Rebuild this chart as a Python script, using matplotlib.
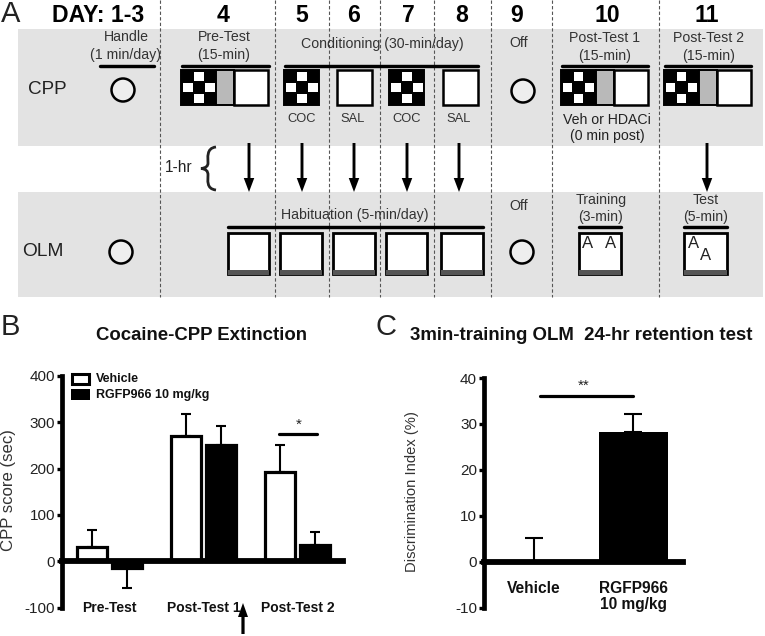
import matplotlib
matplotlib.use("Agg")
import matplotlib.pyplot as plt
from matplotlib.patches import Rectangle, Circle, PathPatch
from matplotlib.path import Path

plt.rcParams['font.family'] = ['Liberation Sans', 'DejaVu Sans']

W, H = 765, 636

# panel B values
groups = ['Pre-Test', 'Post-Test 1', 'Post-Test 2']
vehicle = [30, 270, 192]
vehicle_err = [37, 47, 58]
rgfp = [-15, 250, 35]
rgfp_err = [43, 42, 28]

# panel C values
olm_labels = ['Vehicle', 'RGFP966\n10 mg/kg']
olm_values = [0, 28.2]
olm_err = [5.1, 4.0]

# panel A labels
day_labels = ['DAY: 1-3', '4', '5', '6', '7', '8', '9', '10', '11']
day_x = [98, 223, 302, 354, 408, 462, 517, 607, 707]
divider_x = [160, 275, 329, 380, 434, 491, 552, 659]
arrow_x = [249, 302, 354, 407, 459, 707]

TXT = '#333333'
BAND = '#e3e3e3'


def px_axes(fig, left, right, top, bottom):
    return fig.add_axes([left / W, 1 - bottom / H, (right - left) / W, (bottom - top) / H])


def line(ax, x0, x1, y, lw=3.4):
    ax.plot([x0, x1], [y, y], color='black', lw=lw * 0.72, solid_capstyle='round')


def label(ax, x, y, s, size=10.2, color=TXT, **kw):
    ax.text(x, y, s, fontsize=size, color=color, ha='center', va='center', **kw)


def circle(ax, x, y):
    ax.add_patch(Circle((x, y), 11.5, fc='#eeeeee', ec='black', lw=1.8))


def checker(ax, x0, y0):
    ax.add_patch(Rectangle((x0, y0), 35, 35, fc='black', ec='black', lw=1.4))
    cx, cy = x0 + 17.5, y0 + 17.5
    for dx, dy in [(0, -11), (-11, 0), (11, 0), (0, 11)]:
        ax.add_patch(Rectangle((cx + dx - 4.9, cy + dy - 4.9), 9.8, 9.8, fc='white', ec='none'))


def white_box(ax, x0, x1, y0=70, y1=105):
    ax.add_patch(Rectangle((x0, y0), x1 - x0, y1 - y0, fc='white', ec='black', lw=1.8))


def tri_chamber(ax, x0):
    checker(ax, x0, 70)
    ax.add_patch(Rectangle((x0 + 35, 70), 18, 35, fc='#b9b9b9', ec='black', lw=1.4))
    white_box(ax, x0 + 53, x0 + 87)


def olm_box(ax, x0, x1):
    ax.add_patch(Rectangle((x0, 233), x1 - x0, 41, fc='white', ec='black', lw=2.0))
    ax.add_patch(Rectangle((x0, 270), x1 - x0, 4.5, fc='#555555', ec='none'))


fig = plt.figure(figsize=(W / 100, H / 100), dpi=100)

bg = fig.add_axes([0, 0, 1, 1])
bg.set_xlim(0, W)
bg.set_ylim(H, 0)
bg.axis('off')

bg.add_patch(Rectangle((18, 29), 745, 117, fc=BAND, ec='none'))
bg.add_patch(Rectangle((18, 192), 745, 105, fc=BAND, ec='none'))
for x in divider_x:
    bg.plot([x, x], [0, 297], color='#555555', lw=0.8, ls=(0, (3, 2)))

label(bg, 11, 14, 'A', size=21, color='#222222')
for x, s in zip(day_x, day_labels):
    label(bg, x, 16, s, size=16.6, color='black', fontweight='bold')

# CPP row
label(bg, 47, 90, 'CPP', size=13.6, color='#222222')
label(bg, 126, 37, 'Handle')
label(bg, 126, 55, '(1 min/day)')
line(bg, 100, 154, 66)
circle(bg, 123, 90)

label(bg, 224, 37, 'Pre-Test')
label(bg, 224, 55, '(15-min)')
line(bg, 182, 269, 65.5)
tri_chamber(bg, 181.5)

label(bg, 382, 44, 'Conditioning (30-min/day)')
line(bg, 285, 478, 65.5)
checker(bg, 284.5, 70)
white_box(bg, 337.5, 372)
checker(bg, 389.5, 70)
white_box(bg, 443.5, 478)
for x, s in zip([302, 353, 407, 459], ['COC', 'SAL', 'COC', 'SAL']):
    label(bg, x, 119, s, size=9.3)

label(bg, 519, 43, 'Off')
circle(bg, 523, 91)

label(bg, 605, 38, 'Post-Test 1')
label(bg, 605, 56, '(15-min)')
line(bg, 562, 648, 65.5)
tri_chamber(bg, 561)
label(bg, 607, 120, 'Veh or HDACi', color='#222222')
label(bg, 607, 136, '(0 min post)', color='#222222')

label(bg, 709, 38, 'Post-Test 2')
label(bg, 709, 56, '(15-min)')
line(bg, 665, 751, 65.5)
tri_chamber(bg, 664)

# arrows between the rows
for x in arrow_x:
    bg.arrow(x, 143, 0, 49, width=2.9, head_width=10.5, head_length=14,
             length_includes_head=True, fc='black', ec='none')
label(bg, 179, 168, '1-hr', size=11.2, color='#222222')
brace = Path([(216, 147), (206, 148), (208, 158), (208, 163), (208, 166), (206, 168), (201, 168.5),
              (206, 169), (208, 171), (208, 175), (208, 180), (206, 189), (216, 190)],
             [Path.MOVETO] + [Path.CURVE4] * 12)
bg.add_patch(PathPatch(brace, fc='none', ec='#222222', lw=2.0))

# OLM row
label(bg, 43, 252, 'OLM', size=13.8, color='#222222')
circle(bg, 121, 252)
label(bg, 355, 215, 'Habituation (5-min/day)')
line(bg, 228, 483, 227)
for x0, x1 in [(228, 269), (280, 322), (333, 375), (386, 427), (441, 483)]:
    olm_box(bg, x0, x1)

label(bg, 519, 206, 'Off')
circle(bg, 522, 252)

label(bg, 601, 200, 'Training')
label(bg, 601, 217, '(3-min)')
line(bg, 579, 621, 227)
olm_box(bg, 579, 621)
label(bg, 588, 244, 'A', size=12, color='#222222')
label(bg, 611, 244, 'A', size=12, color='#222222')

label(bg, 706, 200, 'Test')
label(bg, 706, 217, '(5-min)')
line(bg, 684, 727, 227)
olm_box(bg, 684, 727)
label(bg, 694, 243, 'A', size=12, color='#222222')
label(bg, 706, 256, 'A', size=12, color='#222222')

# panel letters and titles
label(bg, 10, 327, 'B', size=21, color='#222222')
label(bg, 386, 327, 'C', size=21, color='#222222')
label(bg, 202, 336, 'Cocaine-CPP Extinction', size=13.4, color='#111111', fontweight='bold')
label(bg, 581, 336, '3min-training OLM  24-hr retention test', size=13.4, color='#111111', fontweight='bold')
label(bg, 9, 490, 'CPP score (sec)', size=12.1, rotation=90)
label(bg, 412, 492, 'Discrimination Index (%)', size=10.6, rotation=90)
bg.arrow(243, 634, 0, -31, width=3.2, head_width=10, head_length=14,
         length_includes_head=True, fc='black', ec='none')


def style_axes(ax, yticks):
    ax.patch.set_visible(False)
    for side in ['top', 'right']:
        ax.spines[side].set_visible(False)
    ax.spines['left'].set_linewidth(3.4)
    ax.spines['bottom'].set_position(('data', 0))
    ax.spines['bottom'].set_linewidth(4.2)
    ax.set_xticks([])
    ax.set_yticks(yticks)
    ax.set_yticklabels([str(t) for t in yticks])
    ax.tick_params(axis='y', length=3.5, width=2.4, pad=1.5, labelsize=11, labelcolor='#222222')


# panel B
axb = px_axes(fig, 62, 343, 375.7, 607.7)
style_axes(axb, [-100, 0, 100, 200, 300, 400])
axb.set_xlim(-0.505, 2.484)
axb.set_ylim(-100, 400)
offset = 0.186
bar_w = 0.31
for i in range(len(groups)):
    x_v, x_r = i - offset, i + offset
    axb.errorbar(x_v, vehicle[i], yerr=[[0], [vehicle_err[i]]], color='black', elinewidth=1.5,
                 capsize=3.4, capthick=1.5, zorder=1)
    low = [rgfp_err[i]] if rgfp[i] < 0 else [0]
    up = [0] if rgfp[i] < 0 else [rgfp_err[i]]
    axb.errorbar(x_r, rgfp[i], yerr=[low, up], color='black', elinewidth=1.5,
                 capsize=3.4, capthick=1.5, zorder=1)
    axb.bar(x_v, vehicle[i], bar_w, fc='white', ec='black', lw=2.3, zorder=2)
    axb.bar(x_r, rgfp[i], bar_w, fc='black', ec='black', lw=2.3, zorder=2)
    axb.text(i, -100, groups[i], ha='center', va='center', fontsize=10, fontweight='bold', color='#111111')
axb.plot([1.80, 2.21], [275, 275], color='black', lw=2.3, solid_capstyle='round')
axb.text(2.01, 294, '*', ha='center', va='center', fontsize=11, color='#222222')

# legend drawn by hand to sit on the axis like the original
bg.add_patch(Rectangle((72, 374), 17, 9.5, fc='white', ec='black', lw=2.2))
bg.add_patch(Rectangle((71, 389), 19, 11, fc='black', ec='none'))
bg.text(96, 379, 'Vehicle', fontsize=9, fontweight='bold', color='#111111', va='center')
bg.text(96, 395, 'RGFP966 10 mg/kg', fontsize=9, fontweight='bold', color='#111111', va='center')

# panel C
axc = px_axes(fig, 484, 683, 378, 607.7)
style_axes(axc, [-10, 0, 10, 20, 30, 40])
axc.set_xlim(-0.5, 1.5)
axc.set_ylim(-10, 40)
centers = [0, 1]
axc.errorbar(centers, olm_values, yerr=[[0, 0], olm_err], fmt='none', ecolor='black', elinewidth=1.5,
             capsize=6.6, capthick=1.5, zorder=1)
axc.bar(centers, olm_values, 0.69, fc='black', ec='black', lw=0, zorder=2)
axc.plot([0.06, 1.0], [36, 36], color='black', lw=2.3, solid_capstyle='round')
axc.text(0.5, 38.3, '**', ha='center', va='center', fontsize=11, color='#222222')
axc.text(0, -5.9, olm_labels[0], ha='center', va='center', fontsize=11.2, fontweight='bold', color='#111111')
axc.text(1, -7.6, olm_labels[1], ha='center', va='center', fontsize=11.2, fontweight='bold', color='#111111',
         linespacing=1.05)

fig.savefig('out.png', dpi=100)
